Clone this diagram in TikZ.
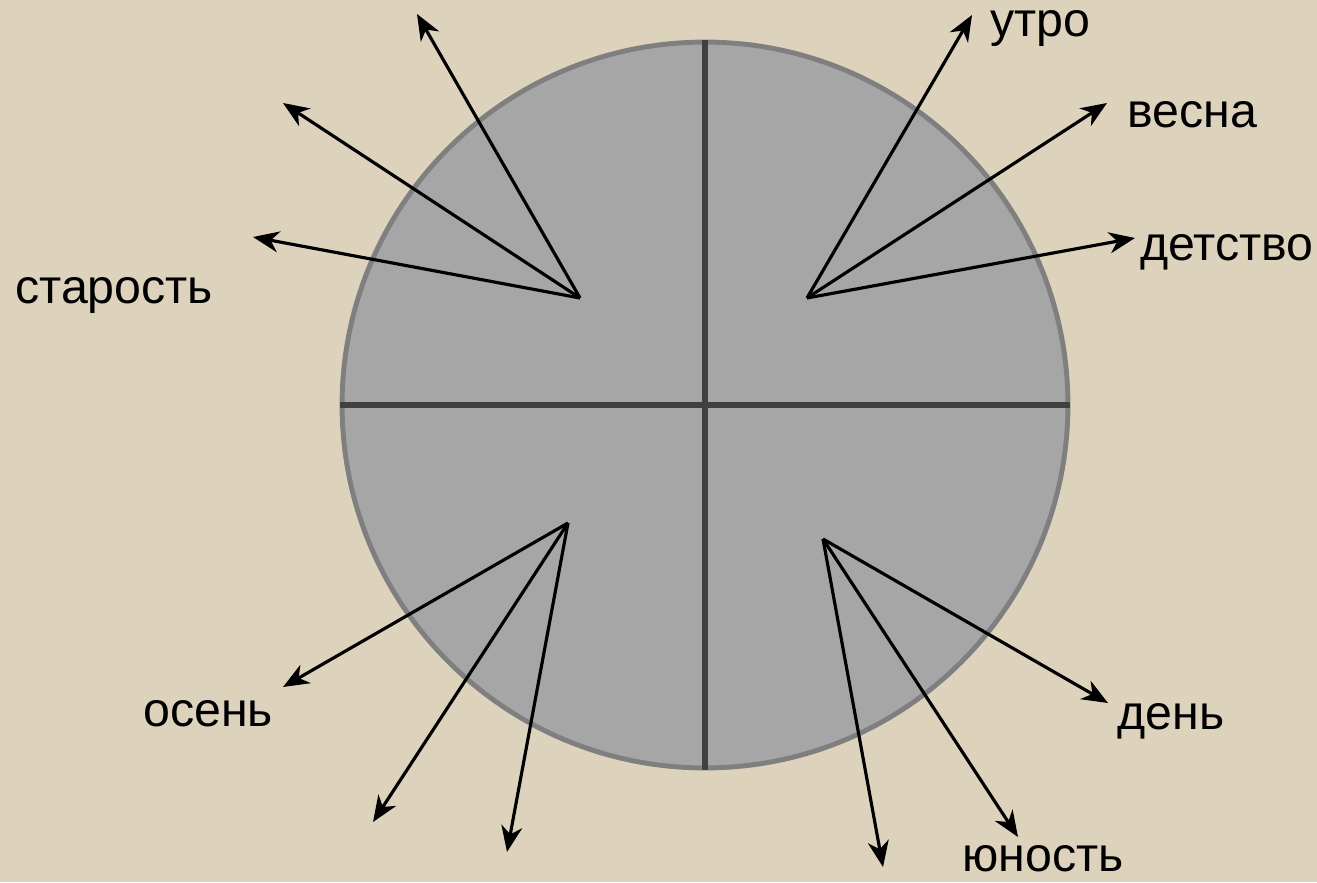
\documentclass[tikz,border=0pt]{standalone}
\usepackage{fontspec}
\setmainfont{Liberation Sans}
\usetikzlibrary{arrows.meta}
\definecolor{paper}{HTML}{DDD3BD}
\definecolor{disc}{HTML}{A6A6A6}
\definecolor{rim}{HTML}{7F7F7F}
\definecolor{bar}{HTML}{404040}

\begin{document}
\begin{tikzpicture}[
  x=0.02cm, y=-0.02cm,
  arr/.style={-{Stealth[length=5.2mm, width=4.2mm, inset=1.6mm]}, line width=1.8pt},
  lbl/.style={anchor=base west, inner sep=0pt, font=\fontsize{27.5}{32}\selectfont},
  bars/.style={draw=bar, line width=3.2pt}
]
\fill[paper] (0,0) rectangle (1317,882);
\useasboundingbox (0,0) rectangle (1317,882);

\node[circle, fill=disc, draw=rim, line width=2.8pt, inner sep=0pt, minimum size=14.52cm] (C) at (705,405) {};
\draw[bars] (C.north) -- (C.south);
\draw[bars] (C.west) -- (C.east);

\coordinate (tl) at (580,298);
\coordinate (tr) at (807,298);
\coordinate (bl) at (568,523);
\coordinate (br) at (823,539);

\coordinate (tl1) at (417,14);
\coordinate (tl2) at (283,103);
\coordinate (tl3) at (253,237);
\coordinate (tr1) at (972,15);
\coordinate (tr2) at (1107,103);
\coordinate (tr3) at (1135,238);
\coordinate (bl1) at (283,687);
\coordinate (bl2) at (373,822);
\coordinate (bl3) at (507,852);
\coordinate (br1) at (1108,703);
\coordinate (br2) at (1018,837);
\coordinate (br3) at (883,867);

\draw[arr] (tl) -- (tl1);
\draw[arr] (tl) -- (tl2);
\draw[arr] (tl) -- (tl3);
\draw[arr] (tr) -- (tr1);
\draw[arr] (tr) -- (tr2);
\draw[arr] (tr) -- (tr3);
\draw[arr] (bl) -- (bl1);
\draw[arr] (bl) -- (bl2);
\draw[arr] (bl) -- (bl3);
\draw[arr] (br) -- (br1);
\draw[arr] (br) -- (br2);
\draw[arr] (br) -- (br3);

\node[lbl] (utro) at (990,37) {утро};
\node[lbl] (vesna) at (1127,127) {весна};
\node[lbl] (detstvo) at (1140,260) {детство};
\node[lbl] (starost) at (15,303) {старость};
\node[lbl] (osen) at (143,726) {осень};
\node[lbl] (den) at (1117,729) {день};
\node[lbl] (yunost) at (962,871) {юность};
\end{tikzpicture}
\end{document}
